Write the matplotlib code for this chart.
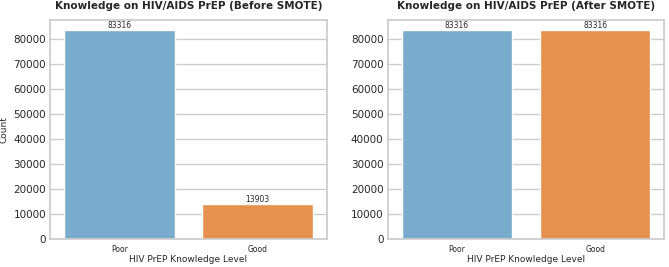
import matplotlib.pyplot as plt
import seaborn as sns

levels = ["Poor", "Good"]
before_counts = [83316, 13903]
after_counts = [83316, 83316]
bar_colors = ["#78abcc", "#e6914f"]

sns.set_theme(style="whitegrid")
plt.rcParams['font.family'] = ['DejaVu Sans']

fig, axes = plt.subplots(1, 2, figsize=(6.69, 2.67), dpi=100)

panels = [(axes[0], before_counts, "Knowledge on HIV/AIDS PrEP (Before SMOTE)"),
          (axes[1], after_counts, "Knowledge on HIV/AIDS PrEP (After SMOTE)")]

for ax, counts, title in panels:
    bars = ax.bar(levels, counts, width=0.8, color=bar_colors)
    ax.set_xlim(-0.5, 1.5)
    ax.set_title(title, fontsize=7.5, fontweight='bold', pad=8)
    ax.set_xlabel("HIV PrEP Knowledge Level", fontsize=6.5, labelpad=1)
    ax.tick_params(axis='x', labelsize=5.5, pad=4, length=0)
    ax.tick_params(axis='y', labelsize=7.5, pad=3, length=0)
    ax.grid(axis='x', visible=False)
    for b, v in zip(bars, counts):
        ax.text(b.get_x() + b.get_width() / 2, v, str(v), ha='center', va='bottom', fontsize=5.5)
    for s in ax.spines.values():
        s.set_color('#cccccc')

axes[0].set_ylabel("Count", fontsize=6.5)
axes[0].yaxis.set_label_coords(-0.15, 0.5)

fig.subplots_adjust(left=0.075, right=0.993, top=0.925, bottom=0.105, wspace=0.22)
fig.savefig("out.png")
